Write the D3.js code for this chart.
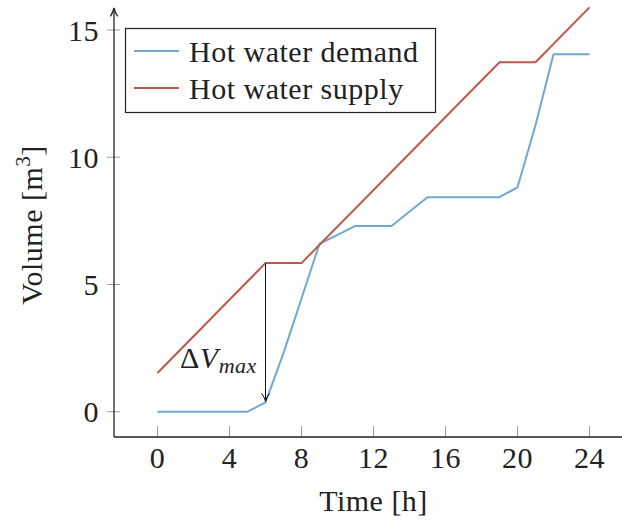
<!DOCTYPE html>
<html>
<head>
<meta charset="utf-8">
<script src="https://cdn.jsdelivr.net/npm/d3@7"></script>
<style>
  body { margin: 0; background: #fff; }
  svg text { font-family: "Liberation Serif", "DejaVu Serif", serif; fill: #222; letter-spacing: 0.5px; }
</style>
</head>
<body>
<svg id="svg" width="622" height="524"></svg>
<script>
// ---- data ----
const demandHours = [0, 5, 6, 7, 8, 9, 10, 11, 13, 15, 19, 20, 21, 22, 24];
const demandVals  = [0, 0, 0.37, 2.3, 4.45, 6.6, 6.95, 7.3, 7.3, 8.43, 8.43, 8.82, 11.26, 14.05, 14.05];
const supplyHours = [0, 6, 8, 19, 21, 24];
const supplyVals  = [1.52, 5.84, 5.84, 13.73, 13.73, 15.89];
const xTicks = [0, 4, 8, 12, 16, 20, 24];
const yTicks = [0, 5, 10, 15];
const seriesNames = ["Hot water demand", "Hot water supply"];
const seriesColors = ["#72a8cf", "#c0574d"];

const svg = d3.select("#svg");

const x = d3.scaleLinear().domain([0, 24]).range([157.5, 589.5]);
const y = d3.scaleLinear().domain([0, 15]).range([411.7, 30]);

const axisX0 = 114, axisY0 = 437;
const fs = 30;

// arrow markers
const defs = svg.append("defs");
defs.append("marker")
    .attr("id", "axarrow")
    .attr("viewBox", "0 0 10 10")
    .attr("refX", 9).attr("refY", 5)
    .attr("markerWidth", 8).attr("markerHeight", 8)
    .attr("orient", "auto")
  .append("path")
    .attr("d", "M1,1.5 Q5,4 9,5 Q5,6 1,8.5")
    .attr("fill", "none").attr("stroke", "#222").attr("stroke-width", 1.2);
defs.append("marker")
    .attr("id", "dvarrow")
    .attr("viewBox", "0 0 10 10")
    .attr("refX", 9).attr("refY", 5)
    .attr("markerWidth", 10).attr("markerHeight", 10)
    .attr("orient", "auto")
  .append("path")
    .attr("d", "M1,1 Q5,4 9,5 Q5,6 1,9")
    .attr("fill", "none").attr("stroke", "#111").attr("stroke-width", 1);

// ---- ticks ----
svg.append("g").selectAll("line").data(xTicks).join("line")
    .attr("x1", d => x(d)).attr("x2", d => x(d))
    .attr("y1", axisY0 - 11).attr("y2", axisY0)
    .attr("stroke", "#999").attr("stroke-width", 1);
svg.append("g").selectAll("line").data(yTicks).join("line")
    .attr("x1", 107).attr("x2", 120)
    .attr("y1", d => y(d)).attr("y2", d => y(d))
    .attr("stroke", "#999").attr("stroke-width", 1);

// ---- axes lines ----
svg.append("line")
    .attr("x1", axisX0).attr("y1", axisY0).attr("x2", 628).attr("y2", axisY0)
    .attr("stroke", "#222").attr("stroke-width", 1.3);
svg.append("line")
    .attr("x1", axisX0).attr("y1", axisY0).attr("x2", axisX0).attr("y2", 8)
    .attr("stroke", "#222").attr("stroke-width", 1.3)
    .attr("marker-end", "url(#axarrow)");

// tick labels
svg.append("g").selectAll("text").data(xTicks).join("text")
    .attr("x", d => x(d)).attr("y", 468)
    .attr("text-anchor", "middle")
    .attr("font-size", fs)
    .text(d => d);
svg.append("g").selectAll("text").data(yTicks).join("text")
    .attr("x", 99).attr("y", d => y(d))
    .attr("text-anchor", "end")
    .attr("dominant-baseline", "central")
    .attr("font-size", fs)
    .text(d => d);

// axis titles
svg.append("text")
    .attr("x", x(12)).attr("y", 511)
    .attr("text-anchor", "middle")
    .attr("font-size", fs)
    .text("Time [h]");
const yl = svg.append("text")
    .attr("transform", "translate(42,225) rotate(-90)")
    .attr("text-anchor", "middle")
    .attr("font-size", fs);
yl.append("tspan").text("Volume [m");
yl.append("tspan").attr("font-size", 21).attr("dy", -12).text("3");
yl.append("tspan").attr("dy", 12).text("]");

// ---- lines ----
const line = d3.line().x(d => x(d[0])).y(d => y(d[1]));
const demand = demandHours.map((h, i) => [h, demandVals[i]]);
const supply = supplyHours.map((h, i) => [h, supplyVals[i]]);

svg.append("path")
    .datum(demand)
    .attr("fill", "none")
    .attr("stroke", seriesColors[0])
    .attr("stroke-width", 2)
    .attr("stroke-linejoin", "round")
    .attr("d", line);
svg.append("path")
    .datum(supply)
    .attr("fill", "none")
    .attr("stroke", seriesColors[1])
    .attr("stroke-width", 2)
    .attr("stroke-linejoin", "round")
    .attr("d", line);

// ---- delta V annotation ----
svg.append("line")
    .attr("x1", x(6)).attr("x2", x(6))
    .attr("y1", y(supplyVals[1])).attr("y2", y(demandVals[2]) - 1)
    .attr("stroke", "#111").attr("stroke-width", 1)
    .attr("marker-end", "url(#dvarrow)");
const dv = svg.append("text")
    .attr("x", 180).attr("y", 368)
    .attr("font-size", fs);
dv.append("tspan").text("Δ");
dv.append("tspan").attr("font-style", "italic").text("V");
dv.append("tspan").attr("font-style", "italic").attr("font-size", 22).attr("dy", 5).text("max");

// ---- legend ----
const lg = svg.append("g");
lg.append("rect")
    .attr("x", 125.5).attr("y", 28.5)
    .attr("width", 310).attr("height", 84)
    .attr("fill", "#fff").attr("stroke", "#222").attr("stroke-width", 1.2);
seriesNames.forEach((name, i) => {
    const ly = 51 + i * 37;
    lg.append("line")
        .attr("x1", 134).attr("x2", 179)
        .attr("y1", ly).attr("y2", ly)
        .attr("stroke", seriesColors[i]).attr("stroke-width", 2);
    lg.append("text")
        .attr("x", 189).attr("y", ly)
        .attr("dominant-baseline", "central")
        .attr("font-size", fs)
        .text(name);
});
</script>
</body>
</html>
